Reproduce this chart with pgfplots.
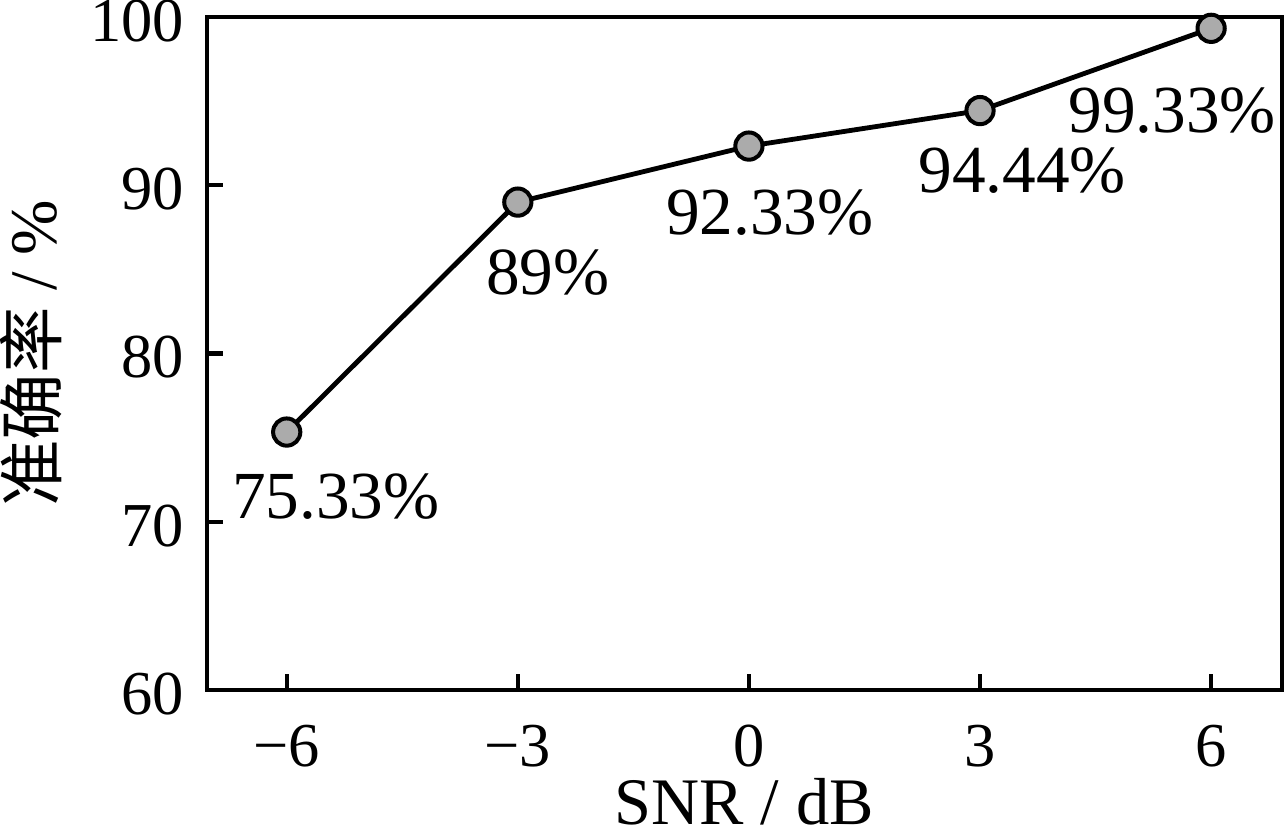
\documentclass[border=0pt]{standalone}
\usepackage{fontspec}
\setmainfont{Liberation Serif}
\newfontfamily\cjk{Noto Sans CJK SC}
\usepackage{pgfplots}
\pgfplotsset{compat=1.18}
\begin{document}
\begin{tikzpicture}
\begin{axis}[
  scale only axis,
  width=268.5pt, height=168pt,
  xmin=-7.04, xmax=6.92,
  ymin=60, ymax=100,
  xtick={-6,-3,0,3,6},
  xticklabels={−6,−3,0,3,6},
  ytick={60,70,80,90,100},
  tick align=inside,
  xtick pos=bottom, ytick pos=left,
  major tick length=4pt,
  axis line style={line width=1pt},
  every tick/.style={line width=1pt, black},
  /pgf/number format/assume math mode=true,
  tick label style={font=\fontsize{15.6}{18}\selectfont, inner sep=0pt},
  xticklabel style={anchor=north, yshift=-8.5pt},
  yticklabel style={anchor=east, xshift=-5.5pt, yshift=-1pt},
  label style={font=\fontsize{16.6}{20}\selectfont, inner sep=0pt},
  xlabel style={at={(axis description cs:0.5,0)}, anchor=north, yshift=-22pt},
  ylabel style={at={(axis description cs:-0.134,0.5)}, anchor=south},
  xlabel={\raisebox{0pt}[\height][0pt]{SNR / dB}},
  ylabel={{\cjk 准确率} / \%},
  clip=false,
]
\addplot[black, line width=1.2pt, mark=*, mark size=3.4pt,
  mark options={fill=black!33, draw=black, line width=1pt}]
  coordinates {(-6,75.33) (-3,89) (0,92.33) (3,94.44) (6,99.33)};
\begin{scope}[every node/.style={font=\fontsize{16.8}{20}\selectfont, inner sep=0pt}]
\node at (axis cs:-6,75.33) [xshift=12.25pt, yshift=-16pt] {75.33\%};
\node at (axis cs:-3,89) [xshift=7.5pt, yshift=-17.5pt] {89\%};
\node at (axis cs:0,92.33) [xshift=5.25pt, yshift=-16.5pt] {92.33\%};
\node at (axis cs:3,94.44) [xshift=10.5pt, yshift=-15pt] {94.44\%};
\node at (axis cs:6,99.33) [xshift=-9.75pt, yshift=-20.5pt] {99.33\%};
\end{scope}
\end{axis}
\end{tikzpicture}
\end{document}
